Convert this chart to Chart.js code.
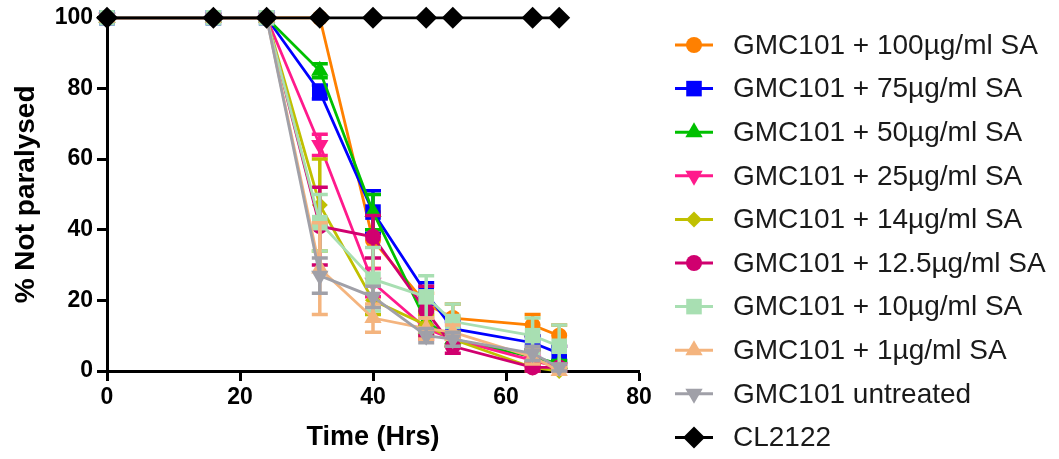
<!DOCTYPE html>
<html>
<head>
<meta charset="utf-8">
<script src="https://cdn.jsdelivr.net/npm/chart.js"></script>
<style>
  body { margin: 0; background: #fff; }
  canvas { display: block; }
</style>
</head>
<body>
<canvas id="chart" width="1059" height="459"></canvas>
<script>
// time points (hours)
const times = [0, 16, 24, 32, 40, 48, 52, 64, 68];

// % not paralysed, with error bars
const sa100 = [100, 100, 100, 100, 37, 19, 15, 13, 10];
const err100 = [0, 0, 0, 0, 8, 3, 4, 3, 3];
const sa75 = [100, 100, 100, 79, 45, 22, 12, 8, 5];
const err75 = [0, 0, 0, 2, 6, 3, 2, 2, 2];
const sa50 = [100, 100, 100, 85, 45, 14, 9, 4, 2];
const err50 = [0, 0, 0, 2, 5, 3, 2, 2, 1];
const sa25 = [100, 100, 100, 64, 25, 12, 9, 3, 1];
const err25 = [0, 0, 0, 3, 4, 3, 2, 2, 1];
const sa14 = [100, 100, 100, 47, 20, 13, 9, 1, 0];
const err14 = [0, 0, 0, 13, 4, 3, 2, 1, 0];
const sa12_5 = [100, 100, 100, 41, 38, 17, 7, 1, 1];
const err12_5 = [0, 0, 0, 11, 6, 7, 2, 1, 1];
const sa10 = [100, 100, 100, 42, 26, 21, 14, 10, 7];
const err10 = [0, 0, 0, 8, 9, 6, 5, 5, 6];
const sa1 = [100, 100, 100, 29, 15, 12, 11, 4, 0];
const err1 = [0, 0, 0, 13, 4, 3, 2, 2, 1];
const untreated = [100, 100, 100, 27, 21, 10, 9, 5, 1];
const errUntreated = [0, 0, 0, 5, 3, 2, 2, 2, 1];
const cl2122 = [100, 100, 100, 100, 100, 100, 100, 100, 100];

const seriesLabels = [
  'GMC101 + 100\u00b5g/ml SA', 'GMC101 + 75\u00b5g/ml SA', 'GMC101 + 50\u00b5g/ml SA',
  'GMC101 + 25\u00b5g/ml SA', 'GMC101 + 14\u00b5g/ml SA', 'GMC101 + 12.5\u00b5g/ml SA',
  'GMC101 + 10\u00b5g/ml SA', 'GMC101 + 1\u00b5g/ml SA', 'GMC101 untreated', 'CL2122'
];

const FONT = "Arial, 'Liberation Sans', sans-serif";

function makeSet(label, values, errs, color, style, radius, rotation, order) {
  return {
    label: label,
    data: values.map((v, i) => ({ x: times[i], y: v })),
    errors: errs,
    borderColor: color,
    backgroundColor: color,
    pointBackgroundColor: color,
    pointBorderColor: color,
    pointBorderWidth: 0,
    pointStyle: style,
    pointRadius: radius,
    pointRotation: rotation,
    borderWidth: 2.8,
    tension: 0,
    clip: false,
    order: order
  };
}

const datasets = [
  makeSet(seriesLabels[0], sa100, err100, '#ff8000', 'circle', 8, 0, 9),
  makeSet(seriesLabels[1], sa75, err75, '#0000ff', 'rect', 11, 0, 8),
  makeSet(seriesLabels[2], sa50, err50, '#00c000', 'triangle', 10, 0, 7),
  makeSet(seriesLabels[3], sa25, err25, '#ff1a8c', 'triangle', 10, 180, 6),
  makeSet(seriesLabels[4], sa14, err14, '#c0c000', 'rectRot', 8, 0, 5),
  makeSet(seriesLabels[5], sa12_5, err12_5, '#d0006f', 'circle', 8, 0, 4),
  makeSet(seriesLabels[6], sa10, err10, '#a8dfb2', 'rect', 11, 0, 3),
  makeSet(seriesLabels[7], sa1, err1, '#f4b47e', 'triangle', 10, 0, 2),
  makeSet(seriesLabels[8], untreated, errUntreated, '#a0a0a8', 'triangle', 10, 180, 1),
  makeSet(seriesLabels[9], cl2122, null, '#000000', 'rectRot', 11, 0, 0)
];

// error bars drawn with each dataset
const errorBars = {
  id: 'errorBars',
  afterDatasetDraw(chart, args) {
    const ds = chart.data.datasets[args.index];
    if (!ds.errors) return;
    const ctx = chart.ctx;
    const xs = chart.scales.x, ys = chart.scales.y;
    ctx.save();
    ctx.strokeStyle = ds.borderColor;
    ctx.lineWidth = 3.5;
    ds.data.forEach((p, i) => {
      const e = ds.errors[i];
      if (!e) return;
      const x = xs.getPixelForValue(p.x);
      const yTop = ys.getPixelForValue(p.y + e);
      const yBot = ys.getPixelForValue(Math.max(0, p.y - e));
      ctx.beginPath();
      ctx.moveTo(x, yTop); ctx.lineTo(x, yBot);
      ctx.moveTo(x - 8, yTop); ctx.lineTo(x + 8, yTop);
      ctx.moveTo(x - 8, yBot); ctx.lineTo(x + 8, yBot);
      ctx.stroke();
    });
    ctx.restore();
  }
};

// legend on the right: line + marker + label
const sideLegend = {
  id: 'sideLegend',
  afterDraw(chart) {
    const ctx = chart.ctx;
    const x0 = chart.chartArea.right + 36;
    ctx.save();
    chart.data.datasets.forEach((ds, i) => {
      const y = 45 + i * 43.6;
      ctx.strokeStyle = ds.borderColor;
      ctx.fillStyle = ds.backgroundColor;
      ctx.lineWidth = 3;
      ctx.beginPath();
      ctx.moveTo(x0, y); ctx.lineTo(x0 + 38, y);
      ctx.stroke();
      Chart.helpers.drawPoint(ctx, {
        pointStyle: ds.pointStyle, radius: ds.pointRadius,
        rotation: ds.pointRotation, borderWidth: 0
      }, x0 + 19, y);
      ctx.fillStyle = '#1a1a1a';
      ctx.font = '28px ' + FONT;
      ctx.textBaseline = 'middle';
      ctx.textAlign = 'left';
      ctx.fillText(ds.label, x0 + 58, y + 1);
    });
    ctx.restore();
  }
};

new Chart(document.getElementById('chart'), {
  type: 'line',
  data: { datasets: datasets },
  options: {
    responsive: false,
    animation: false,
    devicePixelRatio: 1,
    layout: { padding: { top: 17, right: 420, left: 0, bottom: 0 } },
    plugins: { legend: { display: false }, tooltip: { enabled: false } },
    scales: {
      x: {
        type: 'linear',
        min: 0, max: 80,
        afterFit(s) { s.height = 88; },
        ticks: { stepSize: 20, color: '#000', padding: 3, maxRotation: 0, autoSkip: false,
          font: { family: FONT, size: 23, weight: 'bold' } },
        grid: { drawOnChartArea: false, drawTicks: true, tickLength: 10, tickWidth: 3, tickColor: '#000' },
        border: { display: true, color: '#000', width: 3 },
        title: { display: true, text: 'Time (Hrs)', color: '#000',
          font: { family: FONT, size: 27, weight: 'bold' }, padding: { top: 0, bottom: 5 } }
      },
      y: {
        min: 0, max: 100,
        afterFit(s) { s.width = 107; },
        ticks: { stepSize: 20, color: '#000', padding: 4,
          font: { family: FONT, size: 23, weight: 'bold' } },
        grid: { drawOnChartArea: false, drawTicks: true, tickLength: 10, tickWidth: 3, tickColor: '#000' },
        border: { display: true, color: '#000', width: 3 },
        title: { display: true, text: '% Not paralysed', color: '#000',
          font: { family: FONT, size: 28, weight: 'bold' }, padding: { top: 9, bottom: 0 } }
      }
    }
  },
  plugins: [errorBars, sideLegend]
});
</script>
</body>
</html>
